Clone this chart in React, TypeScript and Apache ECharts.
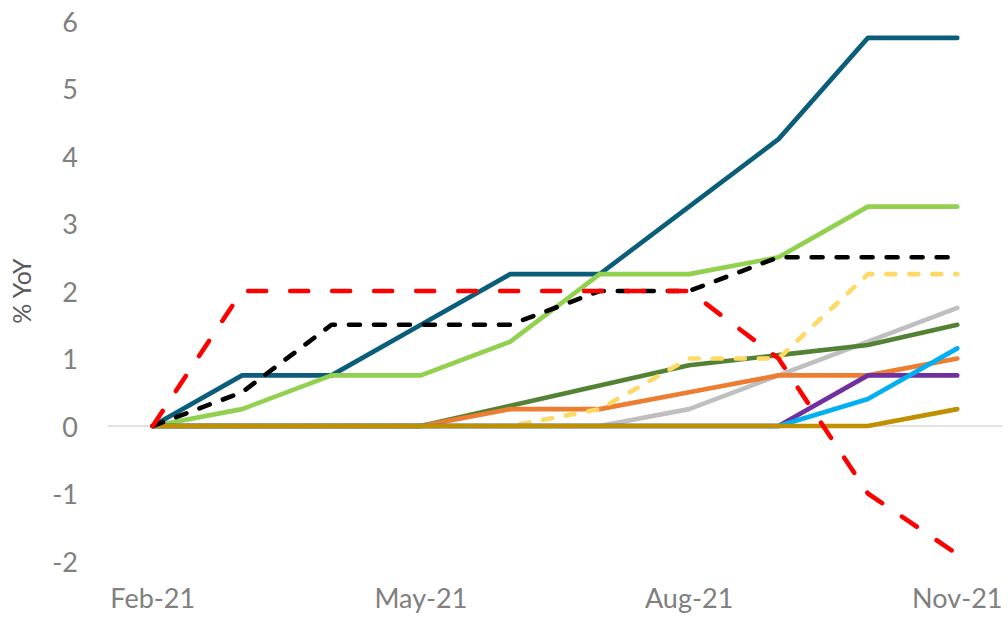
import React, { useEffect, useRef } from "react";
import * as echarts from "echarts";

const categories = ["Feb-21", "Mar-21", "Apr-21", "May-21", "Jun-21", "Jul-21", "Aug-21", "Sep-21", "Oct-21", "Nov-21"];
const yTicks = [-2, -1, 0, 1, 2, 3, 4, 5, 6];

const tealSeries = [0, 0.75, 0.75, 1.5, 2.25, 2.25, 3.25, 4.25, 5.75, 5.75];
const lightGreenSeries = [0, 0.25, 0.75, 0.75, 1.25, 2.25, 2.25, 2.5, 3.25, 3.25];
const graySeries = [0, 0, 0, 0, 0, 0, 0.25, 0.75, 1.25, 1.75];
const darkGreenSeries = [0, 0, 0, 0, 0.3, 0.6, 0.9, 1.05, 1.2, 1.5];
const orangeSeries = [0, 0, 0, 0, 0.25, 0.25, 0.5, 0.75, 0.75, 1.0];
const yellowDashSeries = [0, 0, 0, 0, 0, 0.25, 1.0, 1.0, 2.25, 2.25];
const purpleSeries = [0, 0, 0, 0, 0, 0, 0, 0, 0.75, 0.75];
const lightBlueSeries = [0, 0, 0, 0, 0, 0, 0, 0, 0.4, 1.15];
const goldSeries = [0, 0, 0, 0, 0, 0, 0, 0, 0, 0.25];
const blackDashSeries = [0, 0.5, 1.5, 1.5, 1.5, 2, 2, 2.5, 2.5, 2.5];
const redDashSeries = [0, 2, 2, 2, 2, 2, 2, 1, -1, -1.9];

const FONT = "Lato";
const LABEL_COLOR = "#808080";

function line(name: string, data: number[], color: string, dash?: number[]) {
  return {
    name,
    type: "line",
    data,
    symbol: "none",
    lineStyle: {
      color,
      width: 4.6,
      type: dash ? dash : "solid",
      cap: "round",
      join: "round",
    },
    emphasis: { disabled: true },
  };
}

export default function App() {
  const ref = useRef<HTMLDivElement>(null);
  useEffect(() => {
    if (!ref.current) return;
    const chart = echarts.init(ref.current, null, { renderer: "svg" });
    chart.setOption({
      animation: false,
      backgroundColor: "#ffffff",
      grid: { left: 105, right: 6, top: 21, bottom: 56, containLabel: false },
      xAxis: {
        type: "category",
        data: categories,
        boundaryGap: true,
        axisLine: { show: true, onZero: true, lineStyle: { color: "#D9D9D9", width: 1.5 } },
        axisTick: { show: false },
        axisLabel: {
          interval: 2,
          color: LABEL_COLOR,
          fontFamily: FONT,
          fontSize: 27,
          margin: 23,
        },
        splitLine: { show: false },
      },
      yAxis: {
        type: "value",
        min: yTicks[0],
        max: yTicks[yTicks.length - 1],
        interval: 1,
        name: "% YoY",
        nameLocation: "middle",
        nameGap: 75,
        nameRotate: 90,
        nameTextStyle: { color: "#595959", fontFamily: FONT, fontSize: 25 },
        axisLine: { show: false },
        axisTick: { show: false },
        splitLine: { show: false },
        axisLabel: {
          color: LABEL_COLOR,
          fontFamily: FONT,
          fontSize: 27,
          margin: 30,
        },
      },
      series: [
        line("Teal", tealSeries, "#0B5E7A"),
        line("Light green", lightGreenSeries, "#92D050"),
        line("Gray", graySeries, "#BFBFBF"),
        line("Dark green", darkGreenSeries, "#548235"),
        line("Orange", orangeSeries, "#ED7D31"),
        line("Yellow", yellowDashSeries, "#FFD966", [9, 14]),
        line("Purple", purpleSeries, "#7030A0"),
        line("Light blue", lightBlueSeries, "#00B0F0"),
        line("Gold", goldSeries, "#BF9000"),
        line("Black", blackDashSeries, "#000000", [11, 14]),
        line("Red", redDashSeries, "#FF0000", [18, 24]),
      ],
    });
    return () => chart.dispose();
  }, []);
  return <div ref={ref} style={{ width: 1008, height: 617, position: "absolute", left: 0, top: 0 }} />;
}
